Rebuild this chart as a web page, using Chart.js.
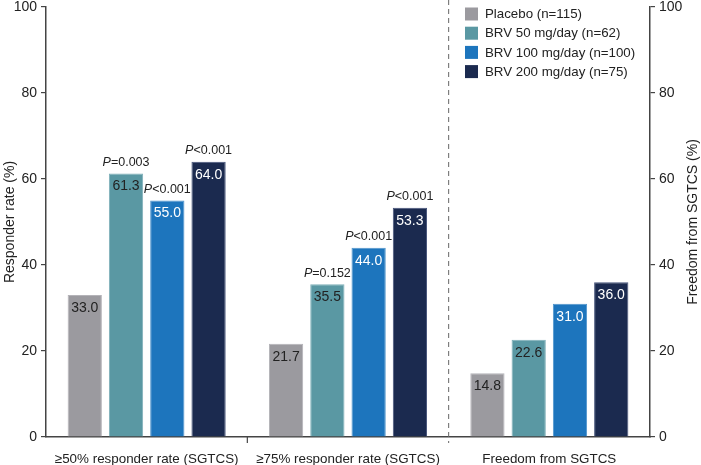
<!DOCTYPE html>
<html>
<head>
<meta charset="utf-8">
<script src="https://cdn.jsdelivr.net/npm/chart.js@4.4.1/dist/chart.umd.min.js"></script>
<style>
  html, body { margin: 0; padding: 0; background: #fff; }
  #wrap { position: relative; width: 701px; height: 465px; }
</style>
</head>
<body>
<div id="wrap"><canvas id="grafico"></canvas></div>
<script>
// ---------- Dados ----------
const categorias = ['≥50% responder rate (SGTCS)', '≥75% responder rate (SGTCS)', 'Freedom from SGTCS'];
const placebo = [33.0, 21.7, 14.8];
const brv50 = [61.3, 35.5, 22.6];
const brv100 = [55.0, 44.0, 31.0];
const brv200 = [64.0, 53.3, 36.0];
const pPlacebo = [null, null, null];
const pBrv50 = ['=0.003', '=0.152', null];
const pBrv100 = ['<0.001', '<0.001', null];
const pBrv200 = ['<0.001', '<0.001', null];
const yTicks = [0, 20, 40, 60, 80, 100];

const FONT = '"Liberation Sans", Arial, sans-serif';
const TXT = '#222';

const series = [
  { label: 'Placebo (n=115)', data: placebo, p: pPlacebo, cor: '#9b9a9f', borda: '#b4b3b8', txt: TXT },
  { label: 'BRV 50 mg/day (n=62)', data: brv50, p: pBrv50, cor: '#5a98a3', borda: '#7fb0b9', txt: TXT },
  { label: 'BRV 100 mg/day (n=100)', data: brv100, p: pBrv100, cor: '#1d75bd', borda: '#4f94cc', txt: '#fff' },
  { label: 'BRV 200 mg/day (n=75)', data: brv200, p: pBrv200, cor: '#1b2a4f', borda: '#46537a', txt: '#fff' },
];

// ---------- Plugins ----------
const rotulos = {
  id: 'rotulos',
  afterDatasetsDraw(chart){
    const ctx = chart.ctx;
    ctx.save();
    ctx.textBaseline = 'middle';
    chart.data.datasets.forEach((ds, i) => {
      const meta = chart.getDatasetMeta(i);
      meta.data.forEach((bar, j) => {
        const v = ds.data[j];
        ctx.font = `14px ${FONT}`;
        ctx.fillStyle = ds.txtColor;
        ctx.textAlign = 'center';
        ctx.fillText(v.toFixed(1), bar.x, bar.y + 13);
        const p = ds.pVals[j];
        if(p){
          ctx.font = `italic 12.5px ${FONT}`;
          const wP = ctx.measureText('P').width;
          ctx.font = `12.5px ${FONT}`;
          const wR = ctx.measureText(p).width;
          const x0 = bar.x - (wP + wR) / 2;
          const y = bar.y - 11;
          ctx.textAlign = 'left';
          ctx.fillStyle = TXT;
          ctx.font = `italic 12.5px ${FONT}`;
          ctx.fillText('P', x0, y);
          ctx.font = `12.5px ${FONT}`;
          ctx.fillText(p, x0 + wP, y);
        }
      });
    });
    ctx.restore();
  }
};

const divisores = {
  id: 'divisores',
  afterDraw(chart){
    const ctx = chart.ctx;
    const x = chart.scales.x;
    const base = chart.chartArea.bottom;
    const b1 = (x.getPixelForTick(0) + x.getPixelForTick(1)) / 2;
    const b2 = (x.getPixelForTick(1) + x.getPixelForTick(2)) / 2;
    ctx.save();
    ctx.strokeStyle = '#444';
    ctx.lineWidth = 1.2;
    ctx.beginPath();
    ctx.moveTo(b1, base);
    ctx.lineTo(b1, base + 6);
    ctx.stroke();
    ctx.setLineDash([5, 4]);
    ctx.strokeStyle = '#666';
    ctx.lineWidth = 1;
    ctx.beginPath();
    ctx.moveTo(b2, 0);
    ctx.lineTo(b2, base + 6);
    ctx.stroke();
    ctx.restore();
  }
};

const legenda = {
  id: 'legenda',
  afterDraw(chart){
    const ctx = chart.ctx;
    ctx.save();
    ctx.textBaseline = 'middle';
    ctx.textAlign = 'left';
    ctx.font = `13.3px ${FONT}`;
    chart.data.datasets.forEach((ds, i) => {
      const y = 14 + i * 19.2;
      ctx.fillStyle = ds.backgroundColor;
      ctx.fillRect(465, y - 6.5, 13, 13);
      ctx.fillStyle = TXT;
      ctx.fillText(ds.label, 485, y + 0.5);
    });
    // título do eixo direito, lido de baixo para cima
    const a = chart.chartArea;
    ctx.translate(693, (a.top + a.bottom) / 2);
    ctx.rotate(-Math.PI / 2);
    ctx.textAlign = 'center';
    ctx.font = `14px ${FONT}`;
    ctx.fillText('Freedom from SGTCS (%)', 0, 0);
    ctx.restore();
  }
};

// ---------- Gráfico ----------
function render(){
  const eixo = (pos) => ({
    position: pos,
    min: 0, max: 100,
    afterBuildTicks: (s) => { s.ticks = yTicks.map(v => ({ value: v })); },
    afterFit: (s) => {
      s.width = pos === 'left' ? 46 : 51;
      s.paddingTop = 0;
      s.paddingBottom = 0;
    },
    ticks: { color: TXT, font: { family: FONT, size: 14 }, padding: 4 },
    grid: { drawOnChartArea: false, drawTicks: true, tickLength: 5, color: '#444', lineWidth: 1.2 },
    border: { display: true, color: '#444', width: 1.5 },
    title: {
      display: pos === 'left',
      text: 'Responder rate (%)',
      color: TXT, font: { family: FONT, size: 14 }, padding: { top: 2, bottom: 0 }
    }
  });

  new Chart(document.getElementById('grafico'), {
    type: 'bar',
    data: {
      labels: categorias,
      datasets: series.map(s => ({
        label: s.label,
        data: s.data,
        backgroundColor: s.cor,
        borderColor: s.borda,
        borderWidth: 1,
        pVals: s.p,
        txtColor: s.txt,
        categoryPercentage: 0.82,
        barPercentage: 0.83,
      }))
    },
    options: {
      responsive: true,
      maintainAspectRatio: false,
      animation: false,
      layout: { padding: { top: 7, left: 0, right: 0, bottom: 0 } },
      scales: {
        x: {
          afterFit: (s) => { s.height = 28; },
          ticks: { color: TXT, font: { family: FONT, size: 13.4 }, padding: 6, maxRotation: 0, autoSkip: false },
          grid: { display: false },
          border: { display: true, color: '#444', width: 1.5 }
        },
        y: eixo('left'),
        y2: eixo('right'),
      },
      plugins: {
        legend: { display: false },
        tooltip: { enabled: false }
      }
    },
    plugins: [rotulos, divisores, legenda]
  });
}

document.addEventListener('DOMContentLoaded', render);
</script>
</body>
</html>
